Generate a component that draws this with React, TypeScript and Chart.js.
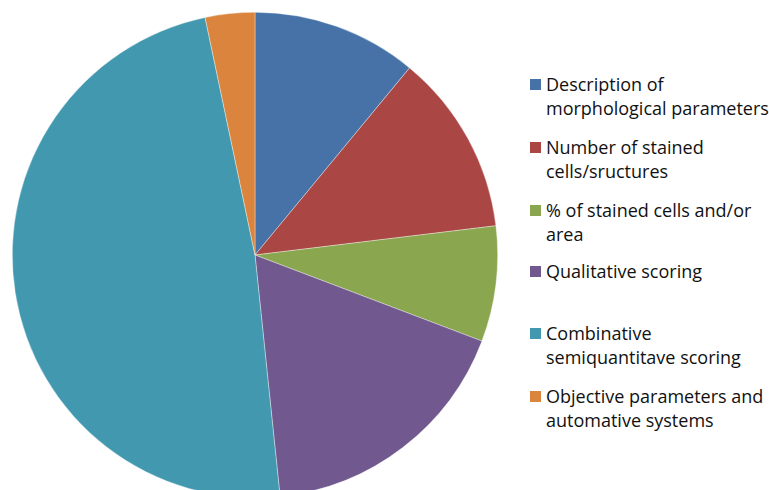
import React, { useEffect, useRef } from "react";
import { Chart, registerables } from "chart.js";

Chart.register(...registerables);

const categories: string[][] = [
  ["Description of", "morphological parameters"],
  ["Number of stained", "cells/sructures"],
  ["% of stained cells and/or", "area"],
  ["Qualitative scoring"],
  ["Combinative", "semiquantitave scoring"],
  ["Objective parameters and", "automative systems"],
];
const values: number[] = [10, 11, 7, 16, 44, 3];
const colors: string[] = ["#4672A8", "#AA4644", "#8AA64F", "#71598F", "#4298AF", "#DB843D"];
const legendTops: number[] = [84, 147, 210, 271, 333, 396];

export default function App() {
  const ref = useRef<HTMLCanvasElement | null>(null);
  useEffect(() => {
    if (!ref.current) return;
    const chart = new Chart(ref.current, {
      type: "pie",
      data: {
        labels: categories.map((c) => c.join(" ")),
        datasets: [
          {
            data: values,
            backgroundColor: colors,
            borderColor: "rgba(255,255,255,0.6)",
            borderWidth: 0.6,
          },
        ],
      },
      options: {
        animation: false,
        responsive: true,
        maintainAspectRatio: false,
        layout: { padding: 12 },
        plugins: { legend: { display: false }, tooltip: { enabled: false } },
      },
    });
    return () => chart.destroy();
  }, []);

  return (
    <div
      style={{
        position: "fixed",
        left: 0,
        top: 0,
        width: 769,
        height: 490,
        overflow: "hidden",
        background: "#fff",
      }}
    >
      <div style={{ position: "absolute", left: 0, top: 0, width: 510, height: 510 }}>
        <canvas ref={ref} />
      </div>
      {categories.map((lines, i) => (
        <div
          key={i}
          style={{
            position: "absolute",
            left: 530,
            top: legendTops[i] - 12,
            fontFamily: "'Open Sans', sans-serif",
            fontSize: 18,
            lineHeight: "24px",
            color: "#111",
            whiteSpace: "nowrap",
          }}
        >
          <span
            style={{
              position: "absolute",
              left: 0,
              top: 7,
              width: 11,
              height: 11,
              background: colors[i],
            }}
          />
          <div style={{ marginLeft: 16 }}>
            {lines.map((l, j) => (
              <div key={j}>{l}</div>
            ))}
          </div>
        </div>
      ))}
    </div>
  );
}
